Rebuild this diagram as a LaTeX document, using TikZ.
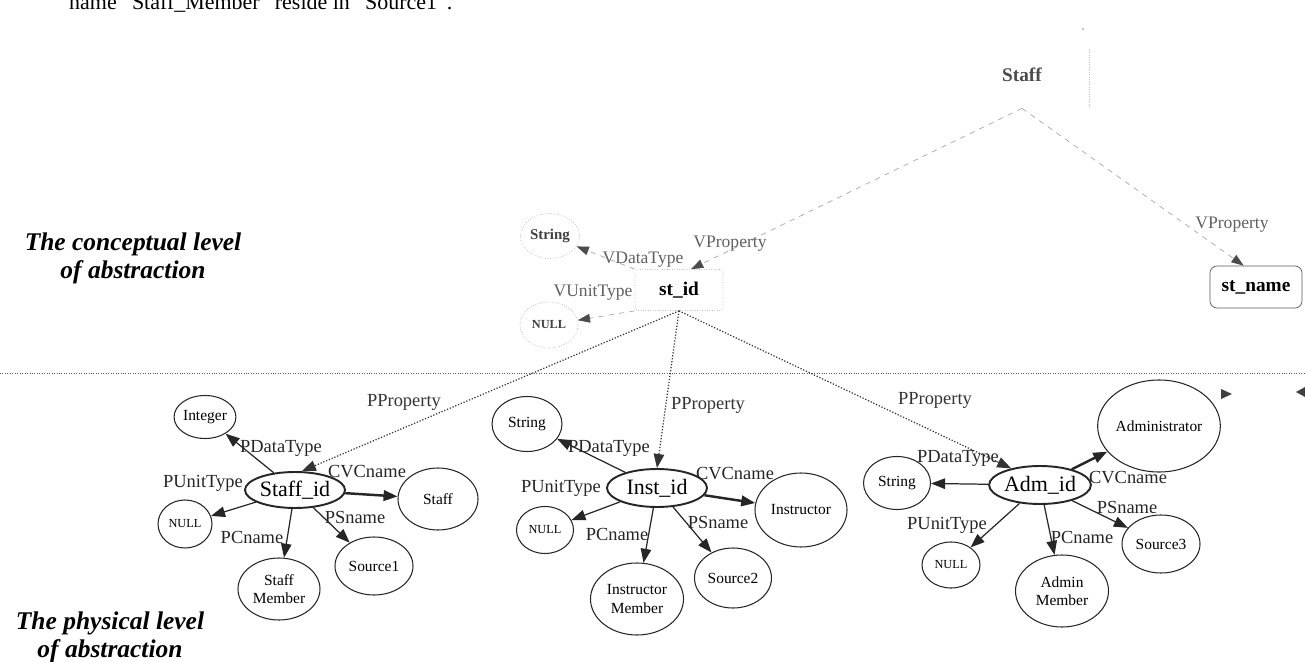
\documentclass[tikz,border=0pt]{standalone}
\usepackage{fontspec}
\setmainfont{Liberation Serif}
\usetikzlibrary{shapes.geometric, arrows.meta}

\begin{document}
\begin{tikzpicture}[x=0.02cm, y=-0.02cm]
		\tikzset{
			sz/.style 2 args={minimum width=#1*0.02cm, minimum height=#2*0.02cm},
			tip/.style={-{Triangle[length=8pt, width=6pt]}},
			vtip/.style={-{Triangle[length=7pt, width=5pt, color=black!70]}},
			vbox/.style={rectangle, draw=gray!60, densely dotted, rounded corners=2pt, inner sep=0pt,
			font=\fontsize{11}{11}\selectfont\bfseries},
			vval/.style={ellipse, draw=gray!60, densely dotted, inner sep=0pt, text=black!75,
			font=\fontsize{8.5}{9}\selectfont\bfseries},
			vedge/.style={vtip, gray!70, dashed},
			vlab/.style={text=gray!75!black, font=\fontsize{10}{10}\selectfont},
			pkey/.style={ellipse, draw=black!85, line width=1.1pt, inner sep=0pt, font=\fontsize{12.5}{13}\selectfont},
			pval/.style={ellipse, draw=black!85, line width=0.6pt, inner sep=0pt, align=center,
			font=\fontsize{8.8}{10.5}\selectfont},
			pnull/.style={pval, font=\fontsize{7}{7}\selectfont},
			pedge/.style={tip, black!85, line width=0.7pt},
			cvedge/.style={tip, black!85, line width=1.4pt},
			ppedge/.style={tip, black!80, densely dotted, line width=0.7pt},
			plab/.style={font=\fontsize{10.5}{11}\selectfont},
			level/.style={align=center, font=\fontsize{14.5}{16}\selectfont\bfseries\itshape}
		}
		\useasboundingbox (0,0) rectangle (1305,662);

		% text above and the two levels
		\node[anchor=base west, font=\fontsize{12.5}{13}\selectfont] (intro) at (63,10)
			{name ``Staff\_Member'' reside in ``Source1''.};
		\node[level] (conc) at (133,258) {The conceptual level\\of abstraction};
		\node[level] (phys) at (110,637) {The physical level\\of abstraction};
		\draw[gray!70!black, densely dotted] (0,373) -- (1305,373);

		% conceptual level
		\node[rectangle, inner sep=0pt, sz={134}{58}, text=gray!60!black,
			font=\fontsize{11}{11}\selectfont\bfseries] (staff) at (1022,79) {\raisebox{5pt}{Staff}};
		\draw[gray!50, densely dotted] (staff.north east) -- (staff.south east);
		\fill[gray!50] (1083,29) circle (0.8pt);
		\node[vbox, sz={88}{41}] (stid) at (679,290) {st\_id};
		\node[vbox, draw=gray!70!black, solid, rounded corners=4pt, sz={92}{42}] (stname) at (1256,287) {st\_name};
		\node[vval, sz={59}{45}] (cstr) at (550,236) {String};
		\node[vval, sz={58}{46}, font=\fontsize{7}{7}\selectfont\bfseries] (cnull) at (549,325) {NULL};

		\draw[vedge] (staff.south) -- (stid.60) node[vlab] at (730,244) {VProperty};
		\draw[vedge] (staff.south) -- (stname.120) node[vlab] at (1232,225) {VProperty};
		\draw[vedge] (stid.north west) -- (cstr) node[vlab] at (643,260) {VDataType};
		\draw[vedge] (stid.south west) -- (cnull) node[vlab] at (593,293) {VUnitType};

		% physical level: Staff_id
		\node[pkey, sz={100}{36}] (sid) at (295,490) {Staff\_id};
		\node[pval, sz={60}{43}] (int1) at (205,417) {Integer};
		\node[pnull, sz={54}{48}] (null1) at (185,524) {NULL};
		\node[pval, sz={80}{62}] (staff1) at (438,499) {Staff};
		\node[pval, sz={82}{62}] (smem1) at (279,589) {Staff\\Member};
		\node[pval, sz={78}{58}] (src1) at (374,566) {Source1};

		\draw[pedge] (sid) -- (int1) node[plab] at (281,448) {PDataType};
		\draw[pedge] (sid) -- (null1) node[plab] at (203,483) {PUnitType};
		\draw[cvedge] (sid) -- (staff1) node[plab] at (367,472) {CVCname};
		\draw[pedge] (sid) -- (src1) node[plab] at (355,517) {PSname};
		\draw[pedge] (sid) -- (smem1) node[plab] at (252,537) {PCname};

		% physical level: Inst_id
		\node[pkey, sz={100}{38}] (iid) at (657,488) {Inst\_id};
		\node[pval, sz={70}{55}] (str2) at (527,424) {String};
		\node[pnull, sz={57}{47}] (null2) at (545,530) {NULL};
		\node[pval, sz={92}{74}] (instr) at (801,510) {Instructor};
		\node[pval, sz={93}{72}] (imem) at (637,599) {Instructor\\Member};
		\node[pval, sz={77}{60}] (src2) at (733,578) {Source2};

		\draw[pedge] (iid) -- (str2) node[plab] at (609,448) {PDataType};
		\draw[pedge] (iid) -- (null2) node[plab] at (561,488) {PUnitType};
		\draw[cvedge] (iid) -- (instr) node[plab] at (735,474) {CVCname};
		\draw[pedge] (iid) -- (src2) node[plab] at (718,522) {PSname};
		\draw[pedge] (iid) -- (imem) node[plab] at (617,534) {PCname};

		% physical level: Adm_id
		\node[pkey, sz={100}{38}] (aid) at (1040,485) {Adm\_id};
		\node[pval, sz={67}{53}] (str3) at (897,483) {String};
		\node[pval, sz={98}{92}] (admin) at (1159,426) {Administrator};
		\node[pnull, sz={58}{46}] (null3) at (951,565) {NULL};
		\node[pval, sz={93}{72}] (amem) at (1062,591) {Admin\\Member};
		\node[pval, sz={78}{58}] (src3) at (1161,544) {Source3};

		\draw[pedge] (aid) -- (str3) node[plab] at (958,458) {PDataType};
		\draw[pedge] (aid) -- (null3) node[plab] at (947,525) {PUnitType};
		\draw[cvedge] (aid) -- (admin) node[plab] at (1128,478) {CVCname};
		\draw[pedge] (aid) -- (src3) node[plab] at (1127,507) {PSname};
		\draw[pedge] (aid) -- (amem) node[plab] at (1082,537) {PCname};

		% conceptual to physical
		\draw[ppedge] (stid.south) -- (sid.70) node[plab] at (404,402) {PProperty};
		\draw[ppedge] (stid.south) -- (iid.north) node[plab] at (708,405) {PProperty};
		\draw[ppedge] (stid.south) -- (aid.150) node[plab] at (935,400) {PProperty};

		% loose arrow tips at the right
		\fill[black!75] (1221,389) -- (1232,394) -- (1221,399) -- cycle;
		\fill[black!75] (1305,387) -- (1296,392) -- (1305,397) -- cycle;
\end{tikzpicture}
\end{document}
